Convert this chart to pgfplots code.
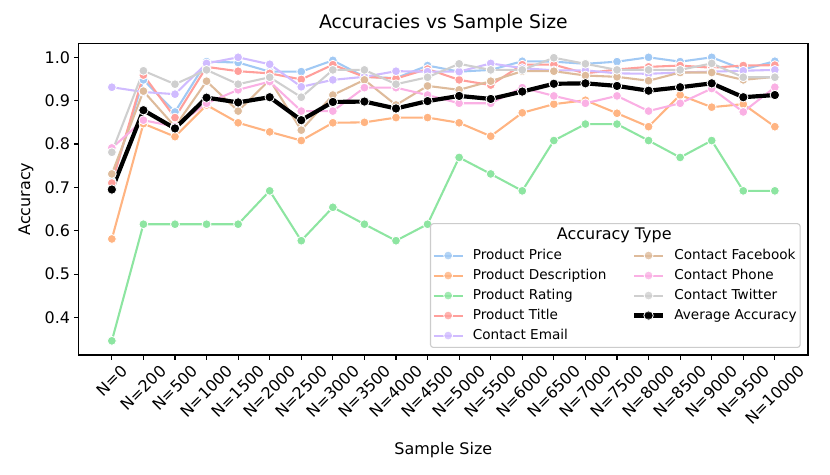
\documentclass[border=0pt]{standalone}
\usepackage{fontspec}
\setmainfont{DejaVu Sans}
\usepackage{graphicx}
\usepackage{pgfplots}
\usepackage{pgfplotstable}
\pgfplotsset{compat=1.18}

\definecolor{cblue}{HTML}{A1C9F4}
\definecolor{corange}{HTML}{FFB482}
\definecolor{cgreen}{HTML}{8DE5A1}
\definecolor{cred}{HTML}{FF9F9B}
\definecolor{cpurple}{HTML}{D0BBFF}
\definecolor{cbrown}{HTML}{DEBB9B}
\definecolor{cpink}{HTML}{FAB0E4}
\definecolor{cgray}{HTML}{CFCFCF}
\definecolor{legedge}{HTML}{CCCCCC}

\pgfplotstableread{
k price desc rating title email fb phone twitter avg
0  0.713 0.581 0.346 0.710 0.931 0.731 0.791 0.781 0.695
1  0.948 0.847 0.615 0.959 0.920 0.922 0.855 0.969 0.878
2  0.874 0.817 0.615 0.861 0.915 0.840 0.840 0.938 0.836
3  0.990 0.890 0.615 0.978 0.986 0.945 0.894 0.971 0.907
4  0.988 0.849 0.615 0.968 1.000 0.876 0.925 0.938 0.896
5  0.967 0.828 0.692 0.963 0.984 0.948 0.944 0.954 0.908
6  0.967 0.808 0.577 0.949 0.932 0.832 0.876 0.908 0.855
7  0.993 0.849 0.654 0.983 0.948 0.913 0.876 0.971 0.897
8  0.955 0.850 0.615 0.955 0.955 0.948 0.930 0.971 0.898
9  0.952 0.861 0.577 0.951 0.968 0.890 0.930 0.938 0.882
10 0.981 0.861 0.615 0.973 0.967 0.934 0.913 0.954 0.899
11 0.967 0.849 0.769 0.948 0.967 0.925 0.894 0.985 0.911
12 0.971 0.818 0.731 0.936 0.986 0.945 0.894 0.971 0.904
13 0.991 0.872 0.692 0.983 0.975 0.968 0.930 0.971 0.921
14 0.990 0.892 0.808 0.983 0.970 0.968 0.911 0.999 0.939
15 0.985 0.901 0.846 0.963 0.970 0.958 0.894 0.985 0.940
16 0.990 0.871 0.846 0.972 0.963 0.955 0.911 0.971 0.934
17 1.000 0.840 0.808 0.978 0.962 0.946 0.876 0.971 0.923
18 0.990 0.913 0.769 0.981 0.965 0.965 0.894 0.971 0.931
19 1.000 0.885 0.808 0.976 0.967 0.965 0.928 0.986 0.940
20 0.972 0.892 0.692 0.981 0.969 0.948 0.874 0.954 0.908
21 0.991 0.840 0.692 0.982 0.971 0.955 0.931 0.954 0.913
}\datatable

\pgfplotsset{
  ser/.style={color=#1, line width=1.5pt, line join=round,
    mark=*, mark size=3.2pt,
    mark options={fill=#1, draw=white, line width=0.6pt, solid}},
  avgser/.style={color=black, line width=3pt, line join=round,
    mark=*, mark size=3.4pt,
    mark options={fill=black, draw=white, line width=0.6pt, solid}},
}

\begin{document}
\begin{tikzpicture}
\useasboundingbox (-56.66pt,-86.4pt) rectangle (540.94pt,255.6pt);
\begin{axis}[
  at={(0pt,0pt)}, anchor=south west,
  scale only axis, width=525.1pt, height=224.4pt,
  xmin=-1.05, xmax=22.05, ymin=0.3133, ymax=1.0323,
  axis line style={black, line width=0.8pt},
  tick align=outside, xtick pos=bottom, ytick pos=left,
  major tick length=3.5pt,
  tick style={black, line width=0.8pt},
  xtick={0,...,21},
  xticklabels={\rotatebox{45}{N=0},\rotatebox{45}{N=200},\rotatebox{45}{N=500},\rotatebox{45}{N=1000},\rotatebox{45}{N=1500},\rotatebox{45}{N=2000},\rotatebox{45}{N=2500},\rotatebox{45}{N=3000},\rotatebox{45}{N=3500},\rotatebox{45}{N=4000},\rotatebox{45}{N=4500},\rotatebox{45}{N=5000},\rotatebox{45}{N=5500},\rotatebox{45}{N=6000},\rotatebox{45}{N=6500},\rotatebox{45}{N=7000},\rotatebox{45}{N=7500},\rotatebox{45}{N=8000},\rotatebox{45}{N=8500},\rotatebox{45}{N=9000},\rotatebox{45}{N=9500},\rotatebox{45}{N=10000}},
  xticklabel style={anchor=north, font=\fontsize{11.5}{13}\selectfont, inner sep=2.5pt},
  ytick={0.4,0.5,0.6,0.7,0.8,0.9,1.0},
  yticklabels={0.4,0.5,0.6,0.7,0.8,0.9,1.0},
  yticklabel style={font=\fontsize{11.5}{13}\selectfont, inner sep=2.5pt},
  title={Accuracies vs Sample Size},
  title style={at={(axis description cs:0.5,1.069)}, anchor=center, yshift=-7.2pt, font=\fontsize{13.5}{16}\selectfont},
  xlabel={Sample Size},
  xlabel style={at={(axis description cs:0.5,-0.305)}, anchor=center, font=\fontsize{11.5}{13}\selectfont},
  ylabel={Accuracy},
  ylabel style={at={(axis description cs:-0.0723,0.5)}, anchor=center, rotate=0, font=\fontsize{11.5}{13}\selectfont},
  legend columns=2,
  legend cell align=left,
  legend image code/.code={\draw[mark repeat=2, mark phase=2, #1] plot coordinates {(0pt,0pt) (10.45pt,0pt) (20.9pt,0pt)};},
  legend style={at={(axis description cs:0.990,0.0225)}, anchor=south east,
    fill=white, fill opacity=0.8, draw opacity=1, text opacity=1,
    draw=legedge, line width=0.8pt, rounded corners=2pt,
    font=\fontsize{9.8}{12}\selectfont,
    inner xsep=1.5pt, inner ysep=2.8pt,
    nodes={inner sep=1pt, text height=7.5pt, text depth=2pt, fill opacity=1},
    row sep=2.9pt,
    /tikz/every odd column/.append style={column sep=5.6pt},
    /tikz/every even column/.append style={column sep=17.4pt},
  },
]
\addplot[ser=cblue, forget plot] table[x=k, y=price] {\datatable};
\addplot[ser=corange, forget plot] table[x=k, y=desc] {\datatable};
\addplot[ser=cgreen, forget plot] table[x=k, y=rating] {\datatable};
\addplot[ser=cred, forget plot] table[x=k, y=title] {\datatable};
\addplot[ser=cpurple, forget plot] table[x=k, y=email] {\datatable};
\addplot[ser=cbrown, forget plot] table[x=k, y=fb] {\datatable};
\addplot[ser=cpink, forget plot] table[x=k, y=phone] {\datatable};
\addplot[ser=cgray, forget plot] table[x=k, y=twitter] {\datatable};
\addplot[avgser, forget plot] table[x=k, y=avg] {\datatable};

\addlegendimage{empty legend}
\addlegendentry{\makebox[0pt][l]{\hspace{60.5pt}\fontsize{11.5}{13}\selectfont Accuracy Type}}
\addlegendimage{empty legend}
\addlegendentry{}
\addlegendimage{ser=cblue}\addlegendentry{Product Price}
\addlegendimage{ser=cbrown}\addlegendentry{Contact Facebook}
\addlegendimage{ser=corange}\addlegendentry{Product Description}
\addlegendimage{ser=cpink}\addlegendentry{Contact Phone}
\addlegendimage{ser=cgreen}\addlegendentry{Product Rating}
\addlegendimage{ser=cgray}\addlegendentry{Contact Twitter}
\addlegendimage{ser=cred}\addlegendentry{Product Title}
\addlegendimage{avgser}\addlegendentry{Average Accuracy}
\addlegendimage{ser=cpurple}\addlegendentry{Contact Email}
\end{axis}
\end{tikzpicture}
\end{document}
